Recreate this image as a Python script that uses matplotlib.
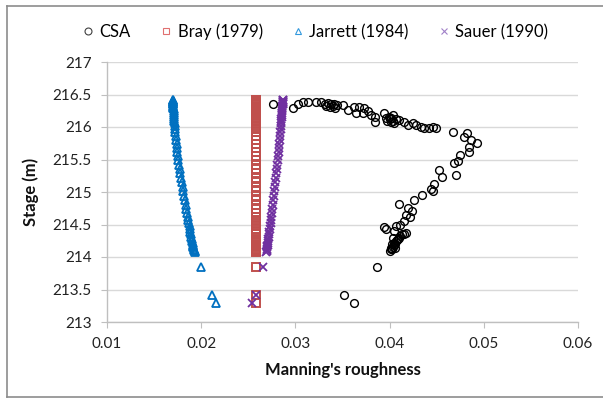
import matplotlib
matplotlib.use("Agg")
import matplotlib.pyplot as plt
from matplotlib.lines import Line2D
from matplotlib.ticker import FuncFormatter

plt.rcParams['font.family'] = ['Lato', 'DejaVu Sans']

# ---- data ----
csa_n = [0.02762, 0.02974, 0.03027, 0.03080, 0.03133, 0.03220, 0.03274,
         0.03310, 0.03330, 0.03350, 0.03365, 0.03380, 0.03395, 0.03410, 0.03425, 0.03440,
         0.03503, 0.03557, 0.03627, 0.03680, 0.03733, 0.03645, 0.03716, 0.03768,
         0.03804, 0.03840, 0.03840, 0.03945,
         0.03960, 0.03975, 0.03990, 0.04000, 0.04010, 0.04020, 0.04035, 0.04050, 0.04065,
         0.04033, 0.04104, 0.04157, 0.04192, 0.04245, 0.04280, 0.04334, 0.04369,
         0.04422, 0.04457, 0.04493,
         0.04668, 0.04817, 0.04793, 0.04863, 0.04933, 0.04845, 0.04845, 0.04747,
         0.04722, 0.04686, 0.04704, 0.04528, 0.04556, 0.04475, 0.04440, 0.04464,
         0.04344, 0.04263, 0.04104, 0.04192, 0.04239, 0.04175, 0.04220, 0.04157,
         0.03937, 0.03962, 0.04068, 0.04110, 0.04050, 0.04033,
         0.04000, 0.04010, 0.04020, 0.04030, 0.04040, 0.04050, 0.04045, 0.04060,
         0.04070, 0.04080, 0.04090, 0.04100, 0.04115, 0.04130, 0.04150, 0.04170,
         0.04060, 0.04030,
         0.03864, 0.03521, 0.03627]
csa_stage = [216.36, 216.30, 216.35, 216.38, 216.38, 216.38, 216.38,
             216.36, 216.33, 216.37, 216.31, 216.35, 216.32, 216.36, 216.30, 216.34,
             216.34, 216.26, 216.31, 216.31, 216.29, 216.21, 216.21, 216.24,
             216.18, 216.08, 216.15, 216.21,
             216.14, 216.10, 216.16, 216.12, 216.08, 216.14, 216.10, 216.06, 216.12,
             216.18, 216.11, 216.08, 216.03, 216.06, 216.03, 216.00, 215.98,
             215.98, 216.00, 215.99,
             215.93, 215.91, 215.84, 215.80, 215.75, 215.70, 215.62, 215.57,
             215.47, 215.44, 215.26, 215.34, 215.23, 215.12, 215.04, 215.02,
             214.95, 214.88, 214.82, 214.76, 214.71, 214.65, 214.61, 214.56,
             214.46, 214.43, 214.48, 214.50, 214.40, 214.29,
             214.10, 214.12, 214.14, 214.12, 214.16, 214.18, 214.22, 214.20,
             214.24, 214.26, 214.28, 214.30, 214.33, 214.36, 214.35, 214.37,
             214.14, 214.20,
             213.84, 213.42, 213.30]

model_stage = [216.42, 216.41, 216.40, 216.39, 216.38, 216.37, 216.36, 216.35, 216.33, 216.31,
               216.29, 216.27, 216.25, 216.22, 216.19, 216.16, 216.13, 216.10, 216.06, 216.02,
               215.97, 215.92, 215.86, 215.80, 215.74, 215.68, 215.61, 215.55, 215.49, 215.42,
               215.36, 215.29, 215.22, 215.15, 215.08, 215.01, 214.94, 214.87, 214.80, 214.74,
               214.68, 214.62, 214.57, 214.52, 214.47, 214.43, 214.39, 214.35, 214.31, 214.28,
               214.25, 214.22, 214.19, 214.17, 214.15, 214.13, 214.11, 214.09, 214.08,
               213.84, 213.42, 213.30]

bray_n = [0.0258, 0.0258, 0.0258, 0.0258, 0.0258, 0.0258, 0.0258, 0.0258, 0.0258, 0.0258,
          0.0258, 0.0258, 0.0258, 0.0258, 0.0258, 0.0258, 0.0258, 0.0258, 0.0258, 0.0258,
          0.0258, 0.0258, 0.0258, 0.0258, 0.0258, 0.0258, 0.0258, 0.0258, 0.0258, 0.0258,
          0.0258, 0.0258, 0.0258, 0.0258, 0.0258, 0.0258, 0.0258, 0.0258, 0.0258, 0.0258,
          0.0258, 0.0258, 0.0258, 0.0258, 0.0258, 0.0258, 0.0258, 0.0258, 0.0258, 0.0258,
          0.0258, 0.0258, 0.0258, 0.0258, 0.0258, 0.0258, 0.0258, 0.0258, 0.0258,
          0.0258, 0.0258, 0.0258]

jarrett_n = [0.01698, 0.01699, 0.01700, 0.01700, 0.01701, 0.01701, 0.01702, 0.01702, 0.01703, 0.01704,
             0.01705, 0.01706, 0.01707, 0.01709, 0.01710, 0.01712, 0.01714, 0.01716, 0.01718, 0.01720,
             0.01723, 0.01726, 0.01730, 0.01734, 0.01738, 0.01742, 0.01747, 0.01752, 0.01757, 0.01764,
             0.01770, 0.01778, 0.01786, 0.01794, 0.01802, 0.01811, 0.01819, 0.01828, 0.01836, 0.01843,
             0.01851, 0.01858, 0.01864, 0.01870, 0.01876, 0.01881, 0.01886, 0.01891, 0.01896, 0.01900,
             0.01904, 0.01908, 0.01912, 0.01915, 0.01918, 0.01922, 0.01926, 0.01929, 0.01932,
             0.01993, 0.02110, 0.02162]

sauer_n = [0.02868, 0.02867, 0.02867, 0.02866, 0.02866, 0.02865, 0.02865, 0.02864, 0.02863, 0.02862,
           0.02861, 0.02859, 0.02858, 0.02857, 0.02855, 0.02853, 0.02851, 0.02850, 0.02847, 0.02845,
           0.02842, 0.02839, 0.02836, 0.02832, 0.02829, 0.02826, 0.02822, 0.02818, 0.02815, 0.02809,
           0.02804, 0.02798, 0.02792, 0.02786, 0.02780, 0.02774, 0.02769, 0.02764, 0.02758, 0.02754,
           0.02749, 0.02745, 0.02741, 0.02737, 0.02732, 0.02728, 0.02724, 0.02720, 0.02716, 0.02713,
           0.02710, 0.02707, 0.02704, 0.02702, 0.02700, 0.02698, 0.02696, 0.02694, 0.02692,
           0.02656, 0.02580, 0.02535]

x_ticks = [0.01, 0.02, 0.03, 0.04, 0.05, 0.06]
y_ticks = [213, 213.5, 214, 214.5, 215, 215.5, 216, 216.5, 217]
series_labels = ["CSA", "Bray (1979)", "Jarrett (1984)", "Sauer (1990)"]

# ---- figure ----
fig = plt.figure(figsize=(6.03, 4.00), dpi=100)
ax = fig.add_axes([107/603, 1 - 322/400, (578 - 107)/603, (322 - 62)/400])

c_csa = 'black'
c_bray = '#C0504D'
c_jar = '#0070C0'
c_sau = '#7030A0'

ax.plot(jarrett_n, model_stage, linestyle='none', marker='^', markersize=5.2,
        markerfacecolor='none', markeredgecolor=c_jar, markeredgewidth=1.3, label=series_labels[2], zorder=3)
ax.plot(bray_n, model_stage, linestyle='none', marker='s', markersize=5.2,
        markerfacecolor='none', markeredgecolor=c_bray, markeredgewidth=1.4, label=series_labels[1], zorder=3)
ax.plot(sauer_n, model_stage, linestyle='none', marker='x', markersize=5.2,
        markeredgecolor=c_sau, markeredgewidth=1.3, label=series_labels[3], zorder=3)
ax.plot(csa_n, csa_stage, linestyle='none', marker='o', markersize=5.6,
        markerfacecolor='none', markeredgecolor=c_csa, markeredgewidth=1.0, label=series_labels[0], zorder=4)

ax.set_xlim(0.01, 0.06)
ax.set_ylim(213, 217)
ax.set_xticks(x_ticks)
ax.set_yticks(y_ticks)
ax.xaxis.set_major_formatter(FuncFormatter(lambda v, p: f"{v:.2f}"))
ax.yaxis.set_major_formatter(FuncFormatter(lambda v, p: f"{v:g}"))

ax.grid(axis='y', color='#D9D9D9', linewidth=1.0)
ax.set_axisbelow(True)
for s in ['top', 'right']:
    ax.spines[s].set_visible(False)
for s in ['left', 'bottom']:
    ax.spines[s].set_color('#BFBFBF')
    ax.spines[s].set_linewidth(1.0)
ax.tick_params(axis='both', direction='out', length=4, color='#BFBFBF', labelsize=11,
               labelcolor='#222222', pad=7)

ax.set_xlabel("Manning's roughness", fontsize=12, fontweight='bold', labelpad=8, color='#111111')
ax.set_ylabel("Stage (m)", fontsize=12, fontweight='bold', labelpad=10, color='#111111')

handles = [
    Line2D([], [], linestyle='none', marker='o', markersize=5, markerfacecolor='none',
           markeredgecolor='#404040', markeredgewidth=0.8),
    Line2D([], [], linestyle='none', marker='s', markersize=5, markerfacecolor='none',
           markeredgecolor='#E07070', markeredgewidth=0.8),
    Line2D([], [], linestyle='none', marker='^', markersize=5, markerfacecolor='none',
           markeredgecolor='#3399DD', markeredgewidth=0.8),
    Line2D([], [], linestyle='none', marker='x', markersize=5,
           markeredgecolor='#A080C8', markeredgewidth=0.8),
]
fig.legend(handles, series_labels, loc='center', bbox_to_anchor=(314/603, 1 - 32/400),
           ncol=4, frameon=False, fontsize=12, handletextpad=0.2, columnspacing=1.6,
           handlelength=1.0)

# chart border (left, top, bottom)
bc = '#8C8C8C'
fig.add_artist(Line2D([7/603, 7/603], [1 - 6/400, 1 - 397/400], transform=fig.transFigure, color=bc, lw=1.2))
fig.add_artist(Line2D([7/603, 1.0], [1 - 6/400, 1 - 6/400], transform=fig.transFigure, color=bc, lw=1.2))
fig.add_artist(Line2D([7/603, 1.0], [1 - 397/400, 1 - 397/400], transform=fig.transFigure, color=bc, lw=1.2))

fig.savefig("out.png", dpi=100)
